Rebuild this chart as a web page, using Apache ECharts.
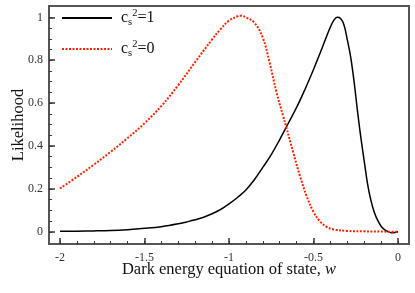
<!DOCTYPE html>
<html>
<head>
<meta charset="utf-8">
<script src="https://cdn.jsdelivr.net/npm/echarts@6/dist/echarts.min.js"></script>
<style>html,body{margin:0;padding:0;background:#fff}#c{width:415px;height:293px}</style>
</head>
<body>
<div id="c"></div>
<script>
// cs^2 = 1 (solid black)
var wBlack = [-2.0,-1.9,-1.8,-1.7,-1.6,-1.5,-1.4,-1.3,-1.25,-1.2,-1.15,-1.1,-1.05,-1.0,-0.95,-0.9,-0.85,-0.8,-0.75,-0.7,-0.65,-0.6,-0.55,-0.5,-0.45,-0.42,-0.4,-0.38,-0.36,-0.34,-0.32,-0.3,-0.28,-0.26,-0.24,-0.22,-0.2,-0.18,-0.16,-0.14,-0.12,-0.1,-0.08,-0.06,-0.04,-0.02,0.0];
var likeBlack = [0.002,0.003,0.004,0.006,0.010,0.016,0.024,0.037,0.046,0.056,0.068,0.084,0.104,0.130,0.160,0.195,0.243,0.300,0.360,0.430,0.505,0.580,0.665,0.757,0.855,0.917,0.955,0.986,1.0,0.995,0.966,0.895,0.815,0.700,0.565,0.440,0.330,0.222,0.145,0.090,0.053,0.026,0.010,0.001,-0.004,-0.003,0.0];
// cs^2 = 0 (dotted red)
var wRed = [-2.0,-1.9,-1.8,-1.7,-1.6,-1.5,-1.4,-1.3,-1.2,-1.1,-1.05,-1.0,-0.95,-0.93,-0.9,-0.85,-0.8,-0.76,-0.72,-0.68,-0.66,-0.62,-0.58,-0.54,-0.5,-0.46,-0.42,-0.38,-0.3,-0.2,-0.1,0.0];
var likeRed = [0.202,0.256,0.313,0.373,0.437,0.506,0.587,0.684,0.792,0.897,0.945,0.985,1.005,1.008,1.0,0.975,0.905,0.79,0.655,0.54,0.485,0.37,0.26,0.165,0.093,0.047,0.022,0.011,0.004,0.002,0.001,0.0];

var xMajorTicks = [-2,-1.5,-1,-0.5,0];
var xMinorTicks = [-2,-1.9,-1.8,-1.7,-1.6,-1.5,-1.4,-1.3,-1.2,-1.1,-1,-0.9,-0.8,-0.7,-0.6,-0.5,-0.4,-0.3,-0.2,-0.1,0];
var yMajorTicks = [0,0.2,0.4,0.6,0.8,1];
var yMinorTicks = [0,0.05,0.1,0.15,0.2,0.25,0.3,0.35,0.4,0.45,0.5,0.55,0.6,0.65,0.7,0.75,0.8,0.85,0.9,0.95,1];

var seriesNames = ['c_s^2=1','c_s^2=0'];

function pairs(xs, ys){ return xs.map(function(x,i){ return [x, ys[i]]; }); }

var FONT = '"Liberation Serif", "DejaVu Serif", serif';
var X_MIN = -2.065, X_MAX = 0.065, Y_MIN = -0.057, Y_MAX = 1.053;

function xAxisDef(major){
  return {
    type:'value', min:X_MIN, max:X_MAX, position:'bottom', gridIndex:0,
    axisLine:{show:false, onZero:false},
    splitLine:{show:false},
    axisTick:{show:true, inside:true, length: major?6:3, customValues: major?xMajorTicks:xMinorTicks,
              lineStyle:{color:'#333', width: major?1.5:1}},
    axisLabel:{show:major, customValues:xMajorTicks, margin:8, color:'#333', fontFamily:FONT, fontSize:12},
    name: major ? 'Dark energy equation of state, {i|w}' : '',
    nameLocation:'middle', nameGap:17, nameMoveOverlap:false,
    nameTextStyle:{fontFamily:FONT, fontSize:16.5, color:'#111', verticalAlign:'top',
      rich:{i:{fontFamily:FONT, fontStyle:'italic', fontSize:16.5, color:'#111'}}}
  };
}
function yAxisDef(major){
  return {
    type:'value', min:Y_MIN, max:Y_MAX, position:'left', gridIndex:0,
    axisLine:{show:false, onZero:false},
    splitLine:{show:false},
    axisTick:{show:true, inside:true, length: major?6:3, customValues: major?yMajorTicks:yMinorTicks,
              lineStyle:{color:'#333', width: major?1.5:1}},
    axisLabel:{show:major, customValues:yMajorTicks, margin:6, color:'#333', fontFamily:FONT, fontSize:12},
    name: major ? 'Likelihood' : '',
    nameLocation:'middle', nameGap:22, nameRotate:90, nameMoveOverlap:false,
    nameTextStyle:{fontFamily:FONT, fontSize:16.5, color:'#111'}
  };
}

function legendFmt(name){
  var v = name.split('=')[1];
  return '{c|c}{sub|s}{sup|2}{c|=' + v + '}';
}

var chart = echarts.init(document.getElementById('c'), null, {renderer:'canvas'});
chart.setOption({
  animation:false,
  backgroundColor:'#fff',
  grid:{left:49, top:6, right:6, bottom:49, show:true, borderColor:'#555', borderWidth:2,
        backgroundColor:'transparent', outerBoundsMode:'none', containLabel:false},
  xAxis:[xAxisDef(true), xAxisDef(false)],
  yAxis:[yAxisDef(true), yAxisDef(false)],
  legend:{
    orient:'vertical', left:61, top:8, padding:0, itemWidth:50, itemHeight:14, itemGap:11,
    icon:'inherit',
    itemStyle:{opacity:0},
    data: seriesNames,
    formatter: legendFmt,
    textStyle:{
      padding:[0,0,0,4],
      rich:{
        c:{fontFamily:FONT, fontSize:16, color:'#111', lineHeight:20},
        sub:{fontFamily:FONT, fontSize:10.5, color:'#111', lineHeight:9, verticalAlign:'bottom'},
        sup:{fontFamily:FONT, fontSize:10.5, color:'#111', lineHeight:9, verticalAlign:'top'}
      }
    }
  },
  series:[
    {name:seriesNames[0], type:'line', xAxisIndex:0, yAxisIndex:0, data:pairs(wBlack, likeBlack),
     smooth:0.4, symbol:'none', lineStyle:{color:'#000', width:1.5}, itemStyle:{color:'#000'}, z:2},
    {name:seriesNames[1], type:'line', xAxisIndex:0, yAxisIndex:0, data:pairs(wRed, likeRed),
     smooth:0.4, symbol:'none', lineStyle:{color:'#ff2200', width:2, type:[2,1.5]}, itemStyle:{color:'#ff2200'}, z:3}
  ]
});
</script>
</body>
</html>
